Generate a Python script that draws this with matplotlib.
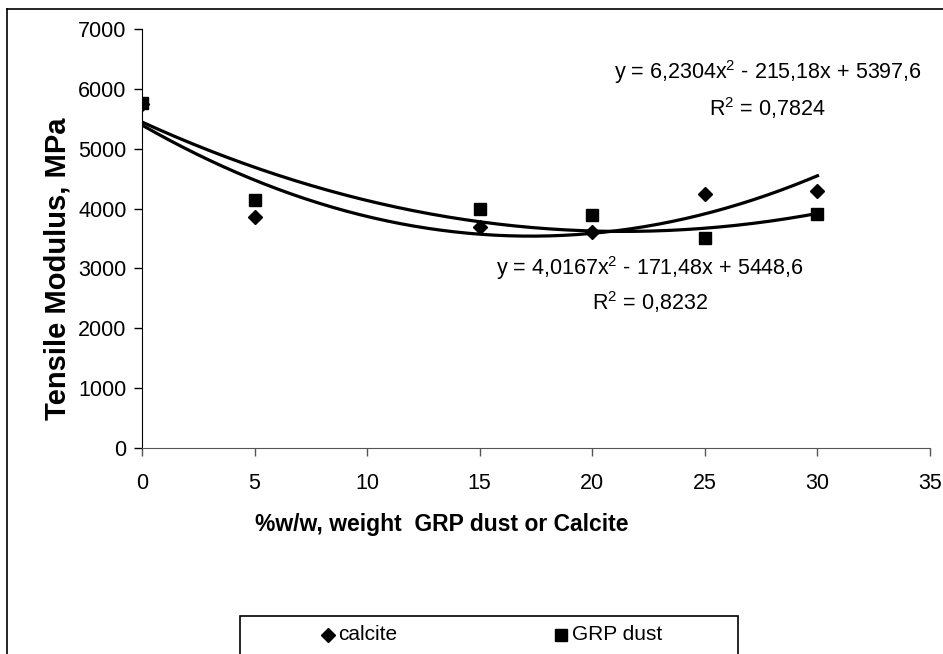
import numpy as np
import matplotlib.pyplot as plt
from matplotlib.lines import Line2D
from matplotlib.patches import Rectangle

plt.rcParams['font.family'] = ['Liberation Sans', 'DejaVu Sans']
plt.rcParams['mathtext.fontset'] = 'custom'
plt.rcParams['mathtext.rm'] = 'Liberation Sans'
plt.rcParams['mathtext.it'] = 'Liberation Sans'

# % w/w filler content
filler = [0, 5, 15, 20, 25, 30]
calcite = [5750, 3860, 3690, 3615, 4240, 4300]
grp_dust = [5770, 4140, 4000, 3890, 3510, 3910]

# quadratic trendlines (a, b, c) and R^2
calcite_fit = [6.2304, -215.18, 5397.6]
calcite_r2 = 0.7824
grp_fit = [4.0167, -171.48, 5448.6]
grp_r2 = 0.8232

def komma(v, nd):
    return f"{v:.{nd}f}".replace(".", ",")

def eq_text(c, r2):
    a, b, cc = c
    sign = "-" if b < 0 else "+"
    line1 = f"y = {komma(a, 4)}x$^2$ {sign} {komma(abs(b), 2)}x + {komma(cc, 1)}"
    line2 = f"R$^2$ = {komma(r2, 4)}"
    return line1, line2

fig = plt.figure(figsize=(9.43, 6.54), dpi=100)
ax = fig.add_axes([142/943, 1-447.7/654, (930-142)/943, (447.7-29.3)/654])

xs = np.linspace(0, 30, 200)
ax.plot(xs, np.polyval(calcite_fit, xs), color='black', lw=2.3)
ax.plot(xs, np.polyval(grp_fit, xs), color='black', lw=2.3)

ax.plot(filler, calcite, ls='none', marker='D', ms=7.5, color='black')
ax.plot(filler, grp_dust, ls='none', marker='s', ms=8.5, color='black')

ax.set_xlim(0, 35)
ax.set_ylim(0, 7000)
ax.set_xticks(range(0, 36, 5))
ax.set_yticks(range(0, 7001, 1000))

for s in ['top', 'right']:
    ax.spines[s].set_visible(False)
ax.spines['left'].set_color('black')
ax.spines['bottom'].set_color('#555555')
ax.tick_params(axis='y', length=6, width=1, pad=5, labelsize=15.5)
ax.tick_params(axis='x', length=6, width=1, color='#555555', pad=12, labelsize=15.5)

fig.text(442/943, 1-525/654, '%w/w, weight  GRP dust or Calcite',
         ha='center', va='center', fontsize=16.5, fontweight='bold')
fig.text(58/943, 1-269/654, 'Tensile Modulus, MPa', rotation=90,
         ha='center', va='center', fontsize=21, fontweight='bold')

l1, l2 = eq_text(calcite_fit, calcite_r2)
fig.text(768/943, 1-72/654, l1, ha='center', va='center', fontsize=15.5)
fig.text(767/943, 1-108/654, l2, ha='center', va='center', fontsize=15.5)
l1, l2 = eq_text(grp_fit, grp_r2)
fig.text(650/943, 1-268/654, l1, ha='center', va='center', fontsize=15.5)
fig.text(650/943, 1-302/654, l2, ha='center', va='center', fontsize=15.5)

# outer chart border
fig.add_artist(Line2D([7/943, 7/943], [-0.1, 1-9/654], color='black', lw=1.2))
fig.add_artist(Line2D([7/943, 1.1], [1-9/654, 1-9/654], color='black', lw=1.2))

# legend box, running off the bottom edge
fig.add_artist(Rectangle((240/943, -0.05), (738-240)/943, 0.05+1-616/654,
                         fill=False, ec='black', lw=1.2))
ly = 1-635/654
fig.add_artist(Line2D([328/943], [ly], marker='D', ms=7.5, color='black', ls='none'))
fig.text(338/943, ly, 'calcite', ha='left', va='center', fontsize=15)
fig.add_artist(Line2D([561/943], [ly], marker='s', ms=8.5, color='black', ls='none'))
fig.text(572/943, ly, 'GRP dust', ha='left', va='center', fontsize=15)

fig.savefig('out.png', dpi=100)
